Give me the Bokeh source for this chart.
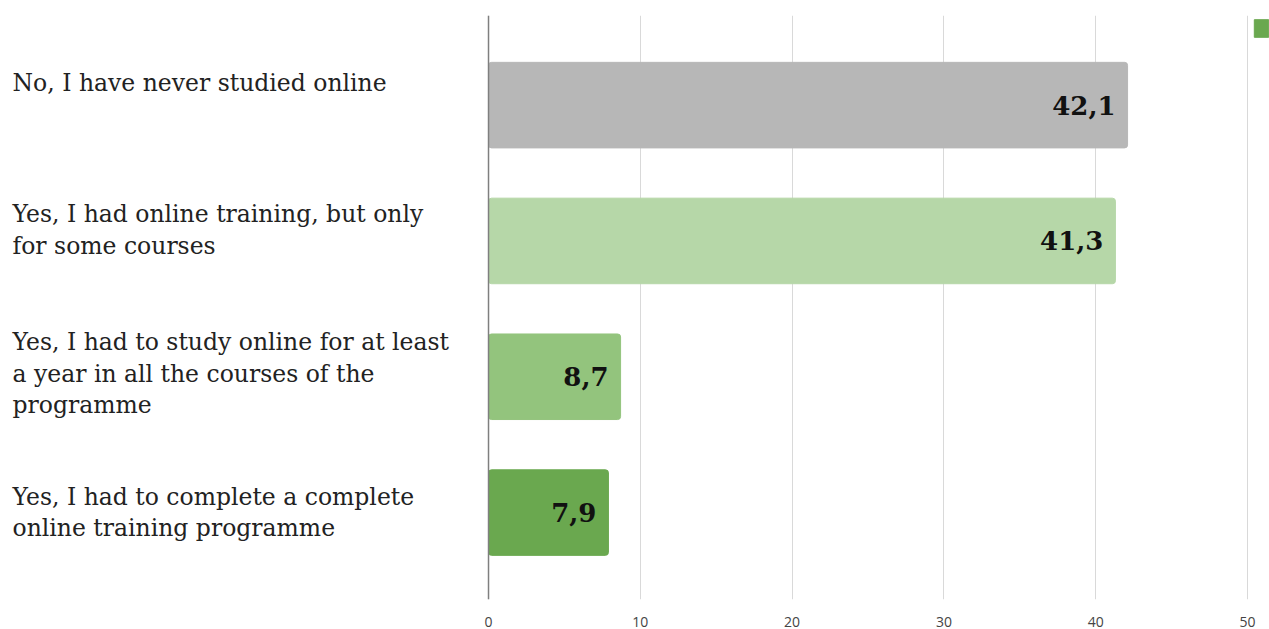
from bokeh.plotting import figure
from bokeh.models import (ColumnDataSource, Range1d, FixedTicker, Span, Legend, LegendItem)
from bokeh.core.properties import value
from bokeh.embed import file_html
from bokeh.resources import INLINE

categories = [
    "No, I have never studied online",
    "Yes, I had online training, but only\nfor some courses",
    "Yes, I had to study online for at least\na year in all the courses of the\nprogramme",
    "Yes, I had to complete a complete\nonline training programme",
]
values = [42.1, 41.3, 8.7, 7.9]
value_labels = ["42,1", "41,3", "8,7", "7,9"]
bar_colors = ["#b7b7b7", "#b6d7a8", "#93c47d", "#6aa84f"]
x_ticks = [0, 10, 20, 30, 40, 50]
legend_label = ""

# style-only nudges (screen px) for the category labels
label_nudge = [-22, -11, -3, 0]

idx = list(range(len(categories)))
src = ColumnDataSource(dict(
    y=idx, v=values, vl=value_labels, c=bar_colors, cat=categories, nudge=label_nudge,
))

p = figure(width=1269, height=629, output_backend="svg", toolbar_location=None,
           x_range=Range1d(-32.15, 51.45), y_range=Range1d(3.64, -0.66),
           min_border_left=0, min_border_right=0, min_border_top=15, min_border_bottom=0)
p.outline_line_color = None
p.background_fill_color = "white"
p.border_fill_color = "white"

bars = p.hbar(y="y", left=0, right="v", height=0.63, color="c", source=src, border_radius=3)

p.text(x="v", y="y", text="vl", source=src, x_offset=-12,
       text_align="right", text_baseline="middle",
       text_font=value("DejaVu Serif"), text_font_style="bold",
       text_font_size="26px", text_color="#111111")

p.text(x=0, y="y", text="cat", source=src, x_offset=-476, y_offset="nudge",
       text_align="left", text_baseline="middle",
       text_font=value("DejaVu Serif"), text_font_size="23.5px",
       text_line_height=1.13, text_color="#222222")

p.add_layout(Span(location=0, dimension="height", line_color="#7f7f7f", line_width=1.5))

p.yaxis.visible = False
p.ygrid.grid_line_color = None
p.xaxis.ticker = FixedTicker(ticks=x_ticks)
p.xgrid.ticker = FixedTicker(ticks=x_ticks)
p.xgrid.grid_line_color = "#d9d9d9"
p.xgrid.grid_line_width = 1
p.xaxis.axis_line_color = None
p.xaxis.major_tick_line_color = None
p.xaxis.minor_tick_line_color = None
p.xaxis.major_label_standoff = 11
p.xaxis.major_label_text_font = "Open Sans"
p.xaxis.major_label_text_font_size = "14px"
p.xaxis.major_label_text_color = "#444444"

legend = Legend(items=[LegendItem(label=legend_label, renderers=[bars], index=3)],
                location=(1252, 560), border_line_color=None, background_fill_alpha=0,
                glyph_width=18, glyph_height=22, padding=0, margin=0, label_width=0,
                label_standoff=0, label_text_font_size="1px")
p.add_layout(legend)

open("out.html", "w").write(file_html(p, INLINE))
